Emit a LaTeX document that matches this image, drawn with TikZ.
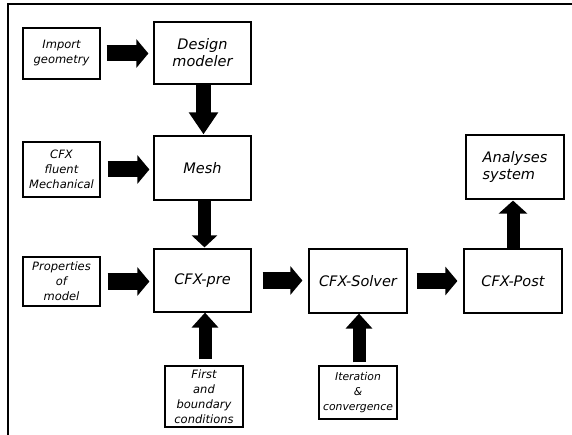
\documentclass[tikz,border=0pt]{standalone}
\usepackage{fontspec}
\setmainfont{DejaVu Sans}
\usetikzlibrary{arrows.meta}
\tikzset{
  box/.style={draw, line width=1.2pt, inner sep=0pt, align=center},
  smallbox/.style={box, font=\fontsize{11.5}{15}\selectfont\itshape},
  bigbox/.style={box, font=\fontsize{14.5}{17}\selectfont\itshape},
  bigarrow/.style={line width=16pt, -{Triangle[length=12pt, width=28pt]}},
}
\begin{document}
\begin{tikzpicture}[x=1pt, y=-1pt]
\useasboundingbox (0,0) rectangle (572,435);
\draw[line width=1.5pt] (8,435) -- (8,4) -- (572,4);
% boxes
\node[smallbox, minimum width=77pt, minimum height=51pt] (imp) at (61.5,53.5) {Import\\geometry};
\node[bigbox, minimum width=97pt, minimum height=62pt] (dm) at (202.5,53) {Design\\modeler};
\node[smallbox, minimum width=77pt, minimum height=55pt] (cfxf) at (61.5,169.5) {CFX\\fluent\\Mechanical};
\node[bigbox, minimum width=97pt, minimum height=64pt] (mesh) at (202.5,168) {Mesh};
\node[smallbox, minimum width=77pt, minimum height=49pt] (prop) at (61.5,281.5) {Properties\\of\\model};
\node[bigbox, minimum width=97pt, minimum height=63pt] (pre) at (202.5,280.5) {CFX-pre};
\node[bigbox, minimum width=98pt, minimum height=64pt] (solv) at (358,281) {CFX-Solver};
\node[bigbox, minimum width=98pt, minimum height=64pt] (post) at (513,281) {CFX-Post};
\node[bigbox, minimum width=98pt, minimum height=64pt, align=left] (anal) at (515,167) {Analyses\\system};
\node[smallbox, minimum width=78pt, minimum height=61pt] (first) at (204,396.5) {First\\and\\boundary\\conditions};
\node[smallbox, minimum width=78pt, minimum height=53pt, font=\fontsize{10.8}{15}\selectfont\itshape] (iter) at (358,392.5) {Iteration\\\&\\convergence};
% arrows
\draw[bigarrow, shorten <=6pt, shorten >=5pt] (imp.east) -- (imp.east -| dm.west);
\draw[bigarrow, shorten <=7pt, shorten >=4pt] (cfxf.east) -- (cfxf.east -| mesh.west);
\draw[bigarrow, shorten <=7pt, shorten >=4pt] (prop.east) -- (prop.east -| pre.west);
\draw[bigarrow, shorten <=11pt, shorten >=6pt] (pre.east) -- (pre.east -| solv.west);
\draw[bigarrow, shorten <=9pt, shorten >=6pt] (solv.east) -- (solv.east -| post.west);
\draw[line width=15pt, -{Triangle[length=22pt, width=28pt]}, shorten >=1pt] ([xshift=1pt]dm.south) -- ([xshift=1pt]dm.south |- mesh.north);
\draw[line width=13pt, -{Triangle[length=12pt, width=25pt]}, shorten >=1pt] ([xshift=2pt]mesh.south) -- ([xshift=2pt]mesh.south |- pre.north);
\draw[line width=13pt, -{Triangle[length=13pt, width=28pt]}, shorten >=1pt] (post.north) -- (post.north |- anal.south);
\draw[line width=13pt, -{Triangle[length=15pt, width=26pt]}, shorten <=3pt] ([xshift=1pt]iter.north) -- ([xshift=1pt]iter.north |- solv.south);
\draw[line width=13pt, -{Triangle[length=15pt, width=26pt]}, shorten <=6pt] ([xshift=1pt]first.north) -- ([xshift=1pt]first.north |- pre.south);
\end{tikzpicture}
\end{document}
